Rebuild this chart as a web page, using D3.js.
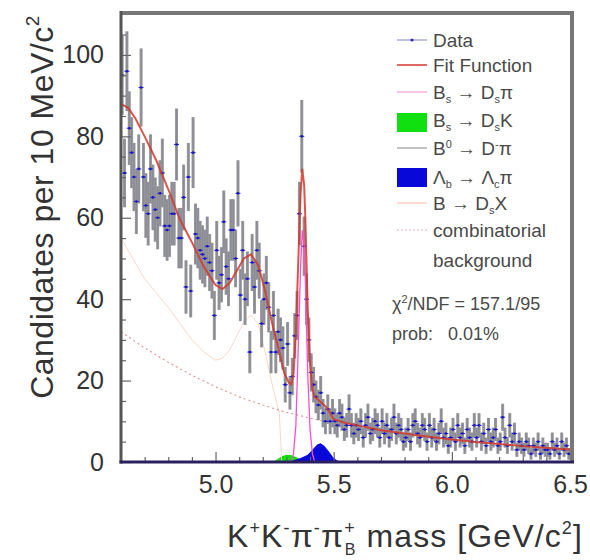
<!DOCTYPE html>
<html><head><meta charset="utf-8">
<script src="https://cdn.jsdelivr.net/npm/d3@7"></script>
<style>
body{margin:0;background:#fff;}
svg{display:block;font-family:"Liberation Sans",Arial,Helvetica,sans-serif;}
</style></head>
<body><svg id="c" width="590" height="560"></svg>
<script>
// ---- data ----
const binStart = 4.60, binWidth = 0.01;
const counts = [
 95,71,96,82,76,70,64,72,92,70,
 63,61,72,65,62,60,66,71,58,57,
 58,61,61,78,55,55,65,43,70,42,
 76,56,55,52,51,50,53,49,47,36,
 52,44,46,59,48,45,57,57,50,66,
 41,52,40,45,27,49,43,52,47,34,
 40,44,38,27,36,27,32,30,28,19,
 29,17,21,31,36,61,80,53,40,30,
 22,19,16,14,17,12,10,13,10,12,
 10,9,12,11,8,9,13,9,7,9,
 8,10,6,9,11,7,8,10,9,6,
 10,7,9,6,8,11,7,9,8,5,
 6,8,5,9,10,7,6,9,8,5,
 9,6,8,5,7,10,6,7,4,6,
 8,5,9,6,7,4,8,6,5,9,
 6,9,5,7,4,8,5,6,8,4,
 5,11,6,4,9,5,7,3,5,4,
 3,5,4,2,4,3,5,2,4,3,
 3,2,5,3,4,2,5,3,4,2
];
const fitX = [4.60,4.63,4.66,4.70,4.75,4.80,4.85,4.90,4.95,5.00,5.03,5.06,5.09,5.12,5.15,5.18,5.21,5.24,5.27,5.29,5.31,5.32,5.33,5.34,5.35,5.36,5.367,5.375,5.38,5.39,5.40,5.41,5.42,5.44,5.46,5.48,5.50,5.55,5.60,5.70,5.80,5.90,6.00,6.10,6.20,6.30,6.40,6.50];
const fitY = [88,87,84.5,80,74,67,59.5,54,48,43.5,42.5,44,47,50,51,48.5,42,34,27,22,19.5,19,21.5,32,49,66,72,68,60,38,24,18,16,15,14,12.5,10.5,9.6,9,7.8,7,6.2,5.5,4.9,4.4,3.9,3.5,3.1];
const dspiX = [5.30,5.32,5.33,5.34,5.35,5.36,5.367,5.375,5.38,5.39,5.40,5.41,5.42,5.44];
const dspiY = [0,0,2,9,28,48,57,53,45,22,8,2,0,0];
const dskX = [5.24,5.26,5.28,5.30,5.32,5.34,5.36,5.38,5.40];
const dskY = [0,0.6,1.4,1.8,1.7,1.2,0.6,0.2,0];
const lbX = [5.31,5.33,5.36,5.39,5.41,5.43,5.445,5.46,5.48,5.50,5.52,5.53];
const lbY = [0,0.4,1.0,1.8,3.0,4.3,4.6,4.0,2.6,1.0,0.2,0];
const dsxX = [4.60,4.65,4.70,4.75,4.80,4.85,4.90,4.95,5.00,5.03,5.06,5.09,5.12,5.15,5.18,5.21,5.24,5.27,5.28];
const dsxY = [55,50,45,41.5,38,34,30,27,25,25.5,27.5,31,34.5,36,34,27,19,12,0];
const combX = [4.60,4.70,4.80,4.90,5.00,5.10,5.20,5.30,5.40,5.50,5.60,5.70,5.80,5.90,6.00,6.10,6.20,6.30,6.40,6.50];
const combY = [32,28,24.5,21.3,18.5,16,14,12.2,10.8,9.5,8.5,7.6,6.8,6.1,5.5,4.9,4.4,3.9,3.5,3.1];
const xMajor = [5.0,5.5,6.0,6.5];
const xMinor = [4.7,4.8,4.9,5.1,5.2,5.3,5.4,5.6,5.7,5.8,5.9,6.1,6.2,6.3,6.4];
const yMajor = [0,20,40,60,80,100];
const yMinor = [5,10,15,25,30,35,45,50,55,65,70,75,85,90,95,105];

// ---- layout ----
const L=121,R=570,T=13,B=462;
const svg=d3.select('#c');
const x=d3.scaleLinear().domain([4.6,6.5]).range([L,R]);
const y=d3.scaleLinear().domain([0,110.3]).range([B,T]);

svg.append('clipPath').attr('id','clip').append('rect').attr('x',L).attr('y',T).attr('width',R-L).attr('height',B-T);
const plot=svg.append('g').attr('clip-path','url(#clip)');
const zip=(a,b)=>a.map((v,i)=>[v,b[i]]);
const line=d3.line().x(d=>x(d[0])).y(d=>y(d[1]));
const area=d3.area().x(d=>x(d[0])).y0(y(0)).y1(d=>y(d[1]));

// filled components
plot.append('path').attr('d',area(zip(dskX,dskY))).attr('fill','#10e010');
plot.append('path').attr('d',area(zip(lbX,lbY))).attr('fill','#0808d8');

// lines behind data
plot.append('path').attr('d',line(zip(dsxX,dsxY))).attr('fill','none').attr('stroke','#fad8c8').attr('stroke-width',1);
plot.append('path').attr('d',line(zip(combX,combY))).attr('fill','none').attr('stroke','#e09090').attr('stroke-width',1.1).attr('stroke-dasharray','2,3');

// data
const pts=counts.map((c,i)=>({x:binStart+binWidth*(i+0.5),v:c,e:Math.sqrt(c)}));
const dg=plot.append('g');
dg.selectAll('line.err').data(pts).enter().append('line')
 .attr('x1',d=>x(d.x)).attr('x2',d=>x(d.x)).attr('y1',d=>y(d.v-d.e)).attr('y2',d=>y(d.v+d.e))
 .attr('stroke','#979797').attr('stroke-width',3);
dg.selectAll('line.err2').data(pts).enter().append('line')
 .attr('x1',d=>x(d.x)).attr('x2',d=>x(d.x)).attr('y1',d=>y(d.v-d.e)).attr('y2',d=>y(d.v+d.e))
 .attr('stroke','#6068a8').attr('stroke-width',0.6).attr('opacity',0.45);
dg.selectAll('line.hb').data(pts).enter().append('line')
 .attr('x1',d=>x(d.x)-2.5).attr('x2',d=>x(d.x)+2.5).attr('y1',d=>y(d.v)).attr('y2',d=>y(d.v))
 .attr('stroke','#3030d0').attr('stroke-width',1.1);
dg.selectAll('circle').data(pts).enter().append('circle')
 .attr('cx',d=>x(d.x)).attr('cy',d=>y(d.v)).attr('r',1.3).attr('fill','#1818c0');

// pink gaussian and fit
plot.append('path').attr('d',line(zip(dspiX,dspiY))).attr('fill','none').attr('stroke','#ff50c8').attr('stroke-width',1.3);
plot.append('path').attr('d',line(zip(fitX,fitY))).attr('fill','none').attr('stroke','#d2382e').attr('stroke-width',2).attr('opacity',0.85);

// axes
const fs=25;
svg.append('g').attr('transform',`translate(0,${B})`)
 .call(d3.axisBottom(x).tickValues(xMajor).tickSize(-10).tickPadding(13).tickFormat(d3.format('.1f')));
svg.append('g').attr('transform',`translate(0,${B})`)
 .call(d3.axisBottom(x).tickValues(xMinor).tickSize(-5).tickFormat(''));
svg.append('g').attr('transform',`translate(${L},0)`)
 .call(d3.axisLeft(y).tickValues(yMajor).tickSize(-10).tickPadding(17));
svg.append('g').attr('transform',`translate(${L},0)`)
 .call(d3.axisLeft(y).tickValues(yMinor).tickSize(-5).tickFormat(''));
svg.selectAll('.domain').remove();
svg.selectAll('.tick line').attr('stroke','#666').attr('stroke-width',1.2);
svg.selectAll('.tick text').attr('font-size',fs).attr('fill','#333').attr('font-family','"Liberation Sans",Arial,sans-serif');

// frame
svg.append('line').attr('x1',L).attr('x2',R+4).attr('y1',T).attr('y2',T).attr('stroke','#777').attr('stroke-width',4);
svg.append('line').attr('x1',R+2).attr('x2',R+2).attr('y1',T-2).attr('y2',B).attr('stroke','#777').attr('stroke-width',4);
svg.append('line').attr('x1',L).attr('x2',L).attr('y1',T-2).attr('y2',B+1.5).attr('stroke','#555').attr('stroke-width',3);
svg.append('line').attr('x1',L-1.5).attr('x2',R+4).attr('y1',B).attr('y2',B).attr('stroke','#2a2060').attr('stroke-width',3);

// helpers for sub/superscripts
function sub(t,s,fsz,sh){t.append('tspan').attr('font-size',fsz).attr('baseline-shift',-sh).text(s);}
function sup(t,s,fsz,sh){t.append('tspan').attr('font-size',fsz).attr('baseline-shift',sh).text(s);}

// axis titles
const yt=svg.append('text').attr('transform','translate(53,207) rotate(-90)').attr('text-anchor','middle')
 .attr('font-size',32).attr('fill','#333').attr('letter-spacing',0.5);
yt.append('tspan').text('Candidates per 10 MeV/c');
sup(yt,'2',19,14);

const xt=svg.append('text').attr('x',227).attr('y',547).attr('font-size',32).attr('fill','#333').attr('letter-spacing',1.1);
xt.append('tspan').text('K'); sup(xt,'+',18,13);
xt.append('tspan').text('K'); sup(xt,'-',18,13);
xt.append('tspan').text('π'); sup(xt,'-',18,13);
xt.append('tspan').text('π'); sup(xt,'+',18,13);
xt.append('tspan').attr('dx',-11).attr('font-size',16).attr('baseline-shift',-8).text('B');
xt.append('tspan').text(' mass [GeV/c'); sup(xt,'2',18,13);
xt.append('tspan').text(']');

// legend
const lg=svg.append('g').attr('font-size',19).attr('fill','#4a4a4a');
const lx0=397,lx1=427,tx=433;
const legendY=[40,65,92,120,148,177,203,230,260,303,333];
function txt(yc){return lg.append('text').attr('x',tx).attr('y',yc+7);}
// Data
lg.append('line').attr('x1',lx0).attr('x2',lx1).attr('y1',legendY[0]).attr('y2',legendY[0]).attr('stroke','#9098c8').attr('stroke-width',1.2);
lg.append('circle').attr('cx',412).attr('cy',legendY[0]).attr('r',1.6).attr('fill','#3030b0');
txt(legendY[0]).text('Data');
// Fit
lg.append('line').attr('x1',lx0).attr('x2',lx1).attr('y1',legendY[1]).attr('y2',legendY[1]).attr('stroke','#d2382e').attr('stroke-width',1.5);
txt(legendY[1]).text('Fit Function');
// Bs->Ds pi
lg.append('line').attr('x1',lx0).attr('x2',lx1).attr('y1',legendY[2]).attr('y2',legendY[2]).attr('stroke','#f4a0d8').attr('stroke-width',1.2);
let t=txt(legendY[2]); t.append('tspan').text('B'); sub(t,'s',11,4); t.append('tspan').text(' → D'); sub(t,'s',11,4); t.append('tspan').text('π');
// Bs->Ds K
lg.append('rect').attr('x',lx0).attr('y',113).attr('width',30).attr('height',19).attr('fill','#10e010');
t=txt(legendY[3]); t.append('tspan').text('B'); sub(t,'s',11,4); t.append('tspan').text(' → D'); sub(t,'s',11,4); t.append('tspan').text('K');
// B0->D pi
lg.append('line').attr('x1',lx0).attr('x2',lx1).attr('y1',legendY[4]).attr('y2',legendY[4]).attr('stroke','#999').attr('stroke-width',1.2);
t=txt(legendY[4]); t.append('tspan').text('B'); sup(t,'0',11,7); t.append('tspan').text(' → D'); sup(t,'-',11,7); t.append('tspan').text('π');
// Lb
lg.append('rect').attr('x',lx0).attr('y',168).attr('width',30).attr('height',19).attr('fill','#0808d8');
t=txt(legendY[5]); t.append('tspan').text('Λ'); sub(t,'b',11,4); t.append('tspan').text(' → Λ'); sub(t,'c',11,4); t.append('tspan').text('π');
// B->DsX
lg.append('line').attr('x1',lx0).attr('x2',lx1).attr('y1',legendY[6]).attr('y2',legendY[6]).attr('stroke','#f8c8b0').attr('stroke-width',1.2);
t=txt(legendY[6]); t.append('tspan').text('B → D'); sub(t,'s',11,4); t.append('tspan').text('X');
// combinatorial
lg.append('line').attr('x1',lx0).attr('x2',lx1).attr('y1',legendY[7]).attr('y2',legendY[7]).attr('stroke','#f0b0c0').attr('stroke-width',1.2).attr('stroke-dasharray','2,2');
txt(legendY[7]).text('combinatorial');
txt(legendY[8]).text('background');
// chi2
t=lg.append('text').attr('x',392).attr('y',legendY[9]+7).attr('font-size',18);
t.append('tspan').text('χ'); sup(t,'2',11,7); t.append('tspan').text('/NDF = 157.1/95');
lg.append('text').attr('x',392).attr('y',legendY[10]+7).attr('font-size',18).attr('xml:space','preserve').text('prob:   0.01%');
</script></body></html>
